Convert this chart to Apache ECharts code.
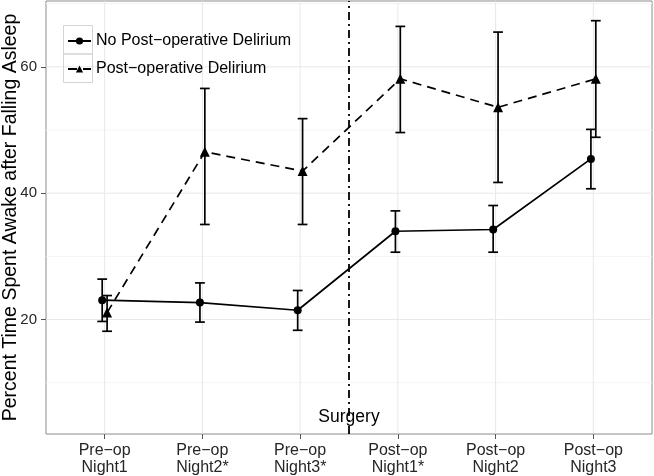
<!DOCTYPE html>
<html><head><meta charset="utf-8">
<script src="https://cdn.jsdelivr.net/npm/echarts@6/dist/echarts.min.js"></script>
<style>html,body{margin:0;padding:0;background:#fff}#c{width:654px;height:476px}</style>
</head><body><div id="c"></div>
<script>
// ---- data ----
const categories = ['Pre−op\nNight1', 'Pre−op\nNight2*', 'Pre−op\nNight3*', 'Post−op\nNight1*', 'Post−op\nNight2', 'Post−op\nNight3'];
const seriesNames = ['No Post−operative Delirium', 'Post−operative Delirium'];
const noDelMean = [23.06, 22.69, 21.47, 33.98, 34.25, 45.43];
const noDelLow  = [19.7, 19.6, 18.3, 30.66, 30.66, 40.7];
const noDelHigh = [26.4, 25.8, 24.6, 37.2, 38.05, 50.1];
const delMean = [21.1, 46.54, 43.5, 58.1, 53.6, 58.1];
const delLow  = [18.15, 35.05, 35.05, 49.6, 41.7, 48.85];
const delHigh = [23.8, 56.58, 51.8, 66.4, 65.5, 67.3];
const yTicks = [20, 40, 60];
const yMinorGrid = [10, 30, 50, 70];
const surgeryX = 3.5;
const surgeryLabelY = 4.6;
const surgeryLabel = 'Surgery';
const yTitle = 'Percent Time Spent Awake after Falling Asleep';

// ---- build ----
const positions = categories.map((c, i) => i + 1);
const dodge = 0.025;
const capHalf = 0.05;
const xMin = 0.4, xMax = 6.6, yMin = 1.885, yMax = 70.42;

function errData(sign, lo, hi) {
  return positions.map((x, i) => [x + sign * dodge, lo[i], hi[i]]);
}
function errRender(params, api) {
  const x = api.value(0), lo = api.value(1), hi = api.value(2);
  const pLo = api.coord([x, lo]), pHi = api.coord([x, hi]);
  const pL = api.coord([x - capHalf, lo]), pR = api.coord([x + capHalf, lo]);
  const hw = (pR[0] - pL[0]) / 2;
  const st = { stroke: '#000', lineWidth: 1.7 };
  return { type: 'group', children: [
    { type: 'line', shape: { x1: pLo[0], y1: pLo[1], x2: pHi[0], y2: pHi[1] }, style: st },
    { type: 'line', shape: { x1: pLo[0] - hw, y1: pLo[1], x2: pLo[0] + hw, y2: pLo[1] }, style: st },
    { type: 'line', shape: { x1: pHi[0] - hw, y1: pHi[1], x2: pHi[0] + hw, y2: pHi[1] }, style: st }
  ]};
}
function gridRender(params, api) {
  const cs = params.coordSys;
  const children = [];
  yMinorGrid.forEach(v => {
    const p = api.coord([xMin, v]);
    children.push({ type: 'line', shape: { x1: cs.x, y1: p[1], x2: cs.x + cs.width, y2: p[1] }, style: { stroke: '#f4f4f4', lineWidth: 1 } });
  });
  yTicks.forEach(v => {
    const p = api.coord([xMin, v]);
    children.push({ type: 'line', shape: { x1: cs.x, y1: p[1], x2: cs.x + cs.width, y2: p[1] }, style: { stroke: '#e8e8e8', lineWidth: 1 } });
  });
  positions.forEach(v => {
    const p = api.coord([v, yMin]);
    children.push({ type: 'line', shape: { x1: p[0], y1: cs.y, x2: p[0], y2: cs.y + cs.height }, style: { stroke: '#e8e8e8', lineWidth: 1 } });
  });
  return { type: 'group', children };
}

const chart = echarts.init(document.getElementById('c'), null, { renderer: 'canvas' });
chart.setOption({
  animation: false,
  backgroundColor: '#fff',
  textStyle: { fontFamily: 'Liberation Sans, Arial, sans-serif' },
  grid: { left: 46, right: 2, top: 1, bottom: 42, show: true, borderColor: '#8c8c8c', borderWidth: 1, backgroundColor: 'transparent', containLabel: false, outerBoundsMode: 'none' },
  legend: {
    data: seriesNames, orient: 'vertical', left: 62, top: 27, padding: 5,
    itemWidth: 23, itemHeight: 9, itemGap: 10,
    textStyle: { fontSize: 16, color: '#000', lineHeight: 18 }
  },
  graphic: [
    { type: 'rect', shape: { x: 63.5, y: 25.5, width: 29, height: 28.5 }, style: { fill: 'none', stroke: '#d4d4d4', lineWidth: 1 }, z: 1 },
    { type: 'rect', shape: { x: 63.5, y: 54, width: 29, height: 28.5 }, style: { fill: 'none', stroke: '#d4d4d4', lineWidth: 1 }, z: 1 }
  ],
  xAxis: {
    type: 'value', min: xMin, max: xMax,
    axisLine: { show: false },
    splitLine: { show: false },
    axisTick: { show: true, customValues: positions, length: 5, lineStyle: { color: '#555', width: 1 } },
    axisLabel: { customValues: positions, formatter: v => categories[Math.round(v) - 1], fontSize: 16, color: '#262626', lineHeight: 17, margin: 8 }
  },
  yAxis: {
    type: 'value', min: yMin, max: yMax,
    name: yTitle, nameLocation: 'middle', nameGap: 25, nameMoveOverlap: false,
    nameTextStyle: { fontSize: 19.5, color: '#000' },
    axisLine: { show: false },
    splitLine: { show: false },
    axisTick: { show: true, customValues: yTicks, length: 5, lineStyle: { color: '#555', width: 1 } },
    axisLabel: { customValues: yTicks, fontSize: 15, color: '#262626', margin: 9 }
  },
  series: [
    { type: 'custom', silent: true, z: 0, renderItem: gridRender, data: [[0]], clip: false },
    { type: 'custom', silent: true, z: 3, renderItem: errRender, data: errData(-1, noDelLow, noDelHigh), encode: { x: 0, y: [1, 2] } },
    { type: 'custom', silent: true, z: 3, renderItem: errRender, data: errData(1, delLow, delHigh), encode: { x: 0, y: [1, 2] } },
    {
      name: seriesNames[0], type: 'line', z: 4,
      data: positions.map((x, i) => [x - dodge, noDelMean[i]]),
      symbol: 'circle', symbolSize: 8,
      lineStyle: { color: '#000', width: 1.7 }, itemStyle: { color: '#000' }
    },
    {
      name: seriesNames[1], type: 'line', z: 4,
      data: positions.map((x, i) => [x + dodge, delMean[i]]),
      symbol: 'triangle', symbolSize: 10,
      lineStyle: { color: '#000', width: 1.7, type: [9, 6] }, itemStyle: { color: '#000' }
    },
    {
      type: 'scatter', z: 5, silent: true,
      data: [[surgeryX, surgeryLabelY]], symbolSize: 0,
      itemStyle: { opacity: 1, color: '#000' },
      label: { show: true, position: 'inside', formatter: surgeryLabel, fontSize: 17.5, color: '#000', opacity: 1 },
      markLine: {
        silent: true, symbol: ['none', 'none'], label: { show: false },
        lineStyle: { color: '#000', width: 1.8, type: [8, 4, 2, 4], opacity: 1 },
        data: [{ xAxis: surgeryX }]
      }
    }
  ]
});
</script>
</body></html>
